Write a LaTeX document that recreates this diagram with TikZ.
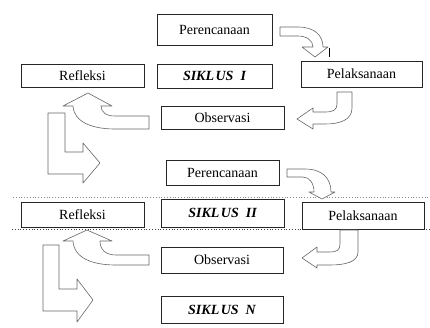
\documentclass[tikz,border=0pt]{standalone}
\usepackage{fontspec}
\setmainfont{Liberation Serif}
\begin{document}
\begin{tikzpicture}[x=1pt,y=-1pt,
  box/.style={draw=black!85, line width=0.9pt, fill=white, inner sep=0pt, font=\fontsize{14}{16}\selectfont},
  sik/.style={box, font=\fontsize{14}{16}\selectfont\bfseries\itshape},
  blockarrow/.style={draw=black!60, line width=0.6pt, fill=white, line join=round},
  sep/.style={dotted, line width=0.8pt}]
\useasboundingbox (0,0) rectangle (430,327);
% separators
\draw[sep, black!45] (13,197) -- (430,197);
\draw[sep, black!75] (12,229) -- (430,229);
% cycle I
\node[box, minimum width=115, minimum height=31] (per1) at (214.5,29.5) {Perencanaan};
\node[box, minimum width=123, minimum height=23] (ref1) at (82.5,75.5) {Refleksi};
\node[sik, minimum width=115, minimum height=24] (sik1) at (214.5,76) {SIKL\kern1.5pt US\hspace{0.5em}I};
\node[box, minimum width=121, minimum height=26] (pel1) at (361.5,74) {Pelaksanaan};
\node[box, minimum width=123, minimum height=23] (obs1) at (222.5,117.5) {Observasi};
% cycle II
\node[box, minimum width=113, minimum height=25] (per2) at (222.5,172.5) {Perencanaan};
\node[box, minimum width=123, minimum height=25] (ref2) at (82.5,214.5) {Refleksi};
\node[sik, minimum width=123, minimum height=28] (sik2) at (222.5,213) {SIKL\kern1.5pt US\hspace{0.5em}II};
\node[box, minimum width=122, minimum height=27] (pel2) at (363,215.5) {Pelaksanaan};
\node[box, minimum width=122, minimum height=26] (obs2) at (222,260) {Observasi};
\node[sik, minimum width=122, minimum height=27] (sikn) at (222,309.5) {SIKL\kern1.5pt US\hspace{0.5em}N};
% block arrows, cycle I
\draw[blockarrow] (280,27) -- (298,27) .. controls (314,27) and (323,35) .. (323,47) -- (328,47) -- (315,57) -- (302,47) -- (313,47) .. controls (313,40) and (306,36) .. (298,36) -- (280,36) -- cycle;
\draw[line width=1.1pt] (329.5,48) -- (329.5,57);
\draw[blockarrow] (337,92) -- (352,92) -- (352,108) .. controls (352,120) and (340,124) .. (325,124) -- (313,124) -- (313,129) -- (297,119) -- (313,108) -- (313,112) -- (325,112) .. controls (333,112) and (337,110) .. (337,104) -- cycle;
\draw[blockarrow] (149,116) -- (115,116) .. controls (106,116) and (101,112) .. (101,106) -- (112,106) -- (88,93) -- (63,106) -- (73,106) .. controls (74,122) and (92,129) .. (115,129) -- (149,129) -- cycle;
\draw[blockarrow] (48,113) -- (65,113) -- (65,152) -- (83,152) -- (83,143) -- (100,163) -- (83,183) -- (83,174) -- (48,174) -- cycle;
% block arrows, cycle II
\draw[blockarrow] (287,169) -- (305,169) .. controls (322,169) and (331,178) .. (331,192) -- (335,192) -- (322,199) -- (309,192) -- (314,192) .. controls (314,184) and (310,177) .. (303,177) -- (287,177) -- cycle;
\draw[blockarrow] (340,230) -- (358,230) -- (358,252) .. controls (358,262) and (345,265) .. (330,265) -- (317,265) -- (317,268) -- (302,258) -- (317,247) -- (317,252) -- (330,252) .. controls (337,252) and (340,250) .. (340,244) -- cycle;
\draw[blockarrow] (149,255) -- (116,255) .. controls (106,255) and (100,250) .. (100,241) -- (112,241) -- (87,230) -- (63,241) -- (73,241) .. controls (74,258) and (92,265) .. (116,265) -- (149,265) -- cycle;
\draw[blockarrow] (43,245) -- (59,245) -- (59,289) -- (77,289) -- (77,279) -- (93,300) -- (77,322) -- (77,311) -- (43,311) -- cycle;
\end{tikzpicture}
\end{document}
